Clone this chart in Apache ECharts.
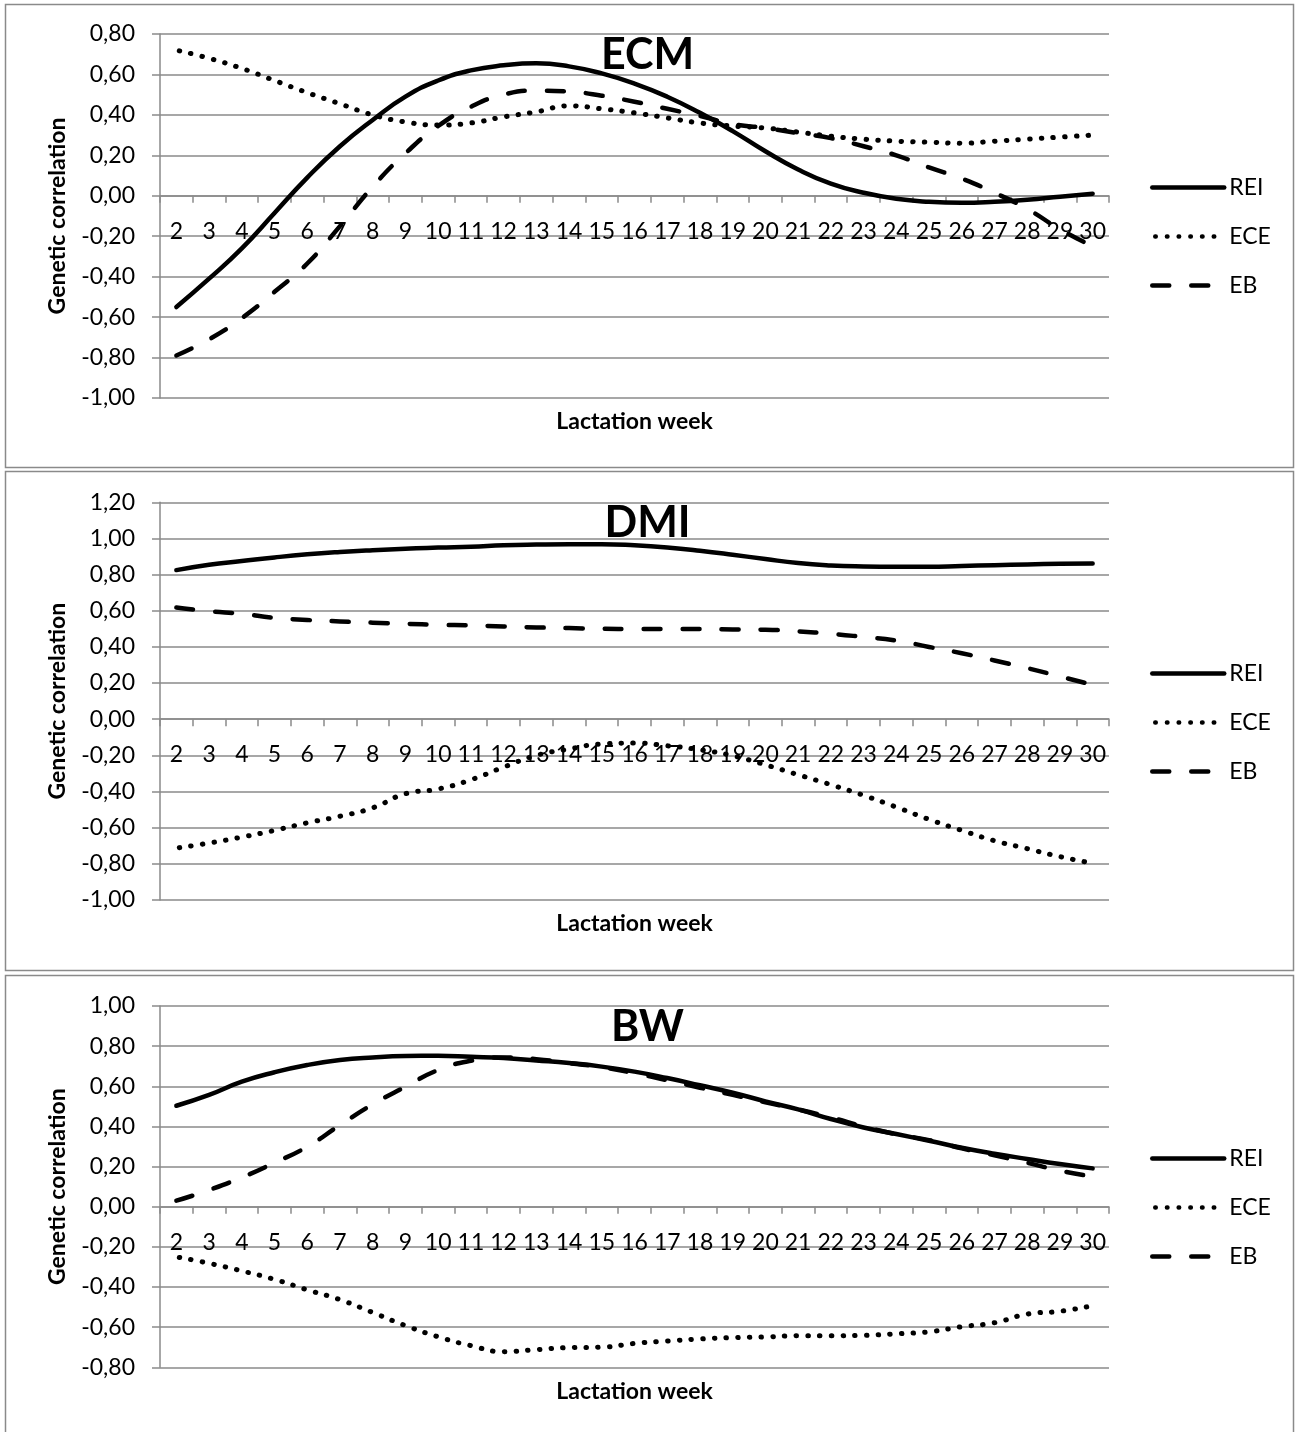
<!DOCTYPE html>
<html>
<head>
<meta charset="utf-8">
<title>Genetic correlations across lactation weeks</title>
<script src="https://cdn.jsdelivr.net/npm/echarts@6/dist/echarts.min.js"></script>
<style>
  html, body { margin: 0; padding: 0; background: #fff; }
  #chart { width: 1295px; height: 1432px; }
</style>
</head>
<body>
<div id="chart"></div>
<script>
// Lactation weeks on the category axis
const weeks = ['2','3','4','5','6','7','8','9','10','11','12','13','14','15','16',
  '17','18','19','20','21','22','23','24','25','26','27','28','29','30'];

const seriesNames = ['REI', 'ECE', 'EB'];
const panelTitles = ['ECM', 'DMI', 'BW'];
const yAxisName = 'Genetic correlation';
const xAxisName = 'Lactation week';

// ECM
const ecmREI = [-0.55, -0.41, -0.26, -0.085, 0.09, 0.245, 0.375, 0.49, 0.57, 0.62, 0.645, 0.655, 0.64,
  0.605, 0.555, 0.49, 0.41, 0.32, 0.22, 0.13, 0.06, 0.015, -0.015, -0.03, -0.035, -0.03, -0.02, -0.005, 0.01];
const ecmECE = [0.72, 0.68, 0.63, 0.57, 0.51, 0.455, 0.40, 0.365, 0.35, 0.36, 0.39, 0.415, 0.445,
  0.43, 0.41, 0.385, 0.36, 0.345, 0.335, 0.315, 0.295, 0.28, 0.27, 0.265, 0.26, 0.27, 0.28, 0.29, 0.30];
const ecmEB = [-0.79, -0.71, -0.605, -0.475, -0.335, -0.15, 0.045, 0.21, 0.345, 0.44, 0.50, 0.52, 0.515,
  0.495, 0.465, 0.43, 0.395, 0.355, 0.335, 0.31, 0.285, 0.245, 0.20, 0.14, 0.085, 0.015, -0.065, -0.165, -0.25];

// DMI
const dmiREI = [0.825, 0.855, 0.875, 0.895, 0.912, 0.925, 0.935, 0.943, 0.95, 0.954, 0.962, 0.966, 0.968,
  0.968, 0.962, 0.95, 0.932, 0.91, 0.886, 0.864, 0.851, 0.845, 0.843, 0.843, 0.848, 0.852, 0.856, 0.86, 0.862];
const dmiECE = [-0.713, -0.685, -0.652, -0.615, -0.573, -0.537, -0.49, -0.412, -0.386, -0.335, -0.265, -0.20, -0.165,
  -0.137, -0.132, -0.147, -0.169, -0.202, -0.252, -0.307, -0.362, -0.421, -0.486, -0.554, -0.615, -0.672, -0.716, -0.76, -0.797];
const dmiEB = [0.618, 0.598, 0.583, 0.561, 0.549, 0.541, 0.534, 0.528, 0.523, 0.519, 0.513, 0.508, 0.504,
  0.50, 0.499, 0.499, 0.499, 0.497, 0.495, 0.486, 0.473, 0.455, 0.435, 0.40, 0.365, 0.325, 0.283, 0.237, 0.19];

// BW
const bwREI = [0.503, 0.557, 0.623, 0.67, 0.706, 0.731, 0.744, 0.751, 0.752, 0.747, 0.741, 0.729, 0.716,
  0.698, 0.673, 0.641, 0.605, 0.568, 0.525, 0.485, 0.437, 0.395, 0.362, 0.329, 0.294, 0.264, 0.238, 0.213, 0.191];
const bwECE = [-0.25, -0.282, -0.32, -0.362, -0.414, -0.463, -0.527, -0.592, -0.648, -0.692, -0.722, -0.712, -0.702,
  -0.70, -0.681, -0.669, -0.659, -0.652, -0.649, -0.643, -0.643, -0.641, -0.633, -0.623, -0.598, -0.578, -0.535, -0.521, -0.493];
const bwEB = [0.03, 0.083, 0.146, 0.219, 0.299, 0.407, 0.51, 0.598, 0.681, 0.727, 0.744, 0.735, 0.715,
  0.695, 0.665, 0.63, 0.593, 0.557, 0.52, 0.485, 0.445, 0.40, 0.361, 0.332, 0.291, 0.256, 0.219, 0.18, 0.15];

// Value-axis ranges per panel
const yMins = [-1.0, -1.0, -0.8];
const yMaxs = [0.8, 1.2, 1.0];
const yStep = 0.2;

const panelData = [
  [ecmREI, ecmECE, ecmEB],
  [dmiREI, dmiECE, dmiEB],
  [bwREI, bwECE, bwEB]
];

// Layout of the three stacked panels
const layout = [
  { gridTop: 34,    gridHeight: 364,   titleTop: 29,   xNameBelow: 226, legendTop: 176,  box: [5.5, 4.5, 1288, 463] },
  { gridTop: 502.3, gridHeight: 397.7, titleTop: 497,  xNameBelow: 204, legendTop: 662,  box: [5.5, 471.5, 1288, 499] },
  { gridTop: 1006,  gridHeight: 361.3, titleTop: 1001, xNameBelow: 185, legendTop: 1147, box: [5.5, 975.5, 1288, 460] }
];

const FONT = 'Lato, "Open Sans", "Noto Sans", sans-serif';
const GRAY = '#8a8a8a';
const INK = '#000000';
const LINE_W = 4.5;

// Line styles: solid, round dots, long dashes
const lineStyles = [
  { color: INK, width: LINE_W, type: 'solid', dashOffset: 0, cap: 'round', join: 'round' },
  { color: INK, width: 5, type: [0.5, 11.2], dashOffset: 8.7, cap: 'round', join: 'round' },
  { color: INK, width: LINE_W, type: [17, 22], dashOffset: 0, cap: 'round', join: 'round' }
];

const fmt = v => (Math.abs(v) < 1e-9 ? 0 : v).toFixed(2).replace('.', ',');

// The category axis sits on the zero line of its value axis
const zeroShift = i => -layout[i].gridHeight * (0 - yMins[i]) / (yMaxs[i] - yMins[i]);

const option = {
  backgroundColor: '#ffffff',
  animation: false,
  textStyle: { fontFamily: FONT },
  title: layout.map((l, i) => ({
    text: panelTitles[i],
    left: 'center',
    top: l.titleTop,
    textStyle: { fontFamily: FONT, fontSize: 43, fontWeight: 'bold', color: INK }
  })),
  grid: layout.map(l => ({
    left: 160, top: l.gridTop, width: 949, height: l.gridHeight,
    containLabel: false, outerBoundsMode: 'none'
  })),
  xAxis: layout.map((l, i) => ({
    type: 'category',
    gridIndex: i,
    data: weeks,
    boundaryGap: true,
    position: 'bottom',
    offset: zeroShift(i),
    name: xAxisName,
    nameLocation: 'middle',
    nameGap: l.xNameBelow - 11.5,
    nameTextStyle: { fontFamily: FONT, fontSize: 23, fontWeight: 'bold', color: INK },
    axisLine: { show: true, onZero: false, lineStyle: { color: GRAY, width: 1.5 } },
    axisTick: { show: true, length: 7, lineStyle: { color: GRAY, width: 1.5 } },
    axisLabel: { interval: 0, margin: 24, fontFamily: FONT, fontSize: 23, color: INK },
    splitLine: { show: false }
  })),
  yAxis: layout.map((l, i) => ({
    type: 'value',
    gridIndex: i,
    min: yMins[i],
    max: yMaxs[i],
    interval: yStep,
    name: yAxisName,
    nameLocation: 'middle',
    nameGap: 91,
    nameTextStyle: { fontFamily: FONT, fontSize: 23, fontWeight: 'bold', color: INK },
    axisLine: { show: true, onZero: false, lineStyle: { color: GRAY, width: 1.5 } },
    axisTick: { show: true, length: 8, lineStyle: { color: GRAY, width: 1.5 } },
    axisLabel: { margin: 25, fontFamily: FONT, fontSize: 23, color: INK, formatter: fmt },
    splitLine: { show: true, lineStyle: { color: GRAY, width: 1.5 } }
  })),
  legend: layout.map(l => ({
    orient: 'vertical',
    left: 1150,
    top: l.legendTop,
    padding: 0,
    itemWidth: 72,
    itemHeight: 14,
    itemGap: 26,
    selectedMode: false,
    data: seriesNames,
    itemStyle: { opacity: 0 },
    lineStyle: { width: LINE_W, cap: 'round' },
    textStyle: { fontFamily: FONT, fontSize: 23, color: INK }
  })),
  series: [],
  graphic: layout.map(l => ({
    type: 'rect',
    silent: true,
    z: -1,
    shape: { x: l.box[0], y: l.box[1], width: l.box[2], height: l.box[3] },
    style: { fill: 'none', stroke: GRAY, lineWidth: 1.5 }
  }))
};

panelData.forEach((sets, p) => {
  sets.forEach((values, s) => {
    option.series.push({
      type: 'line',
      name: seriesNames[s],
      xAxisIndex: p,
      yAxisIndex: p,
      data: values,
      smooth: true,
      symbol: 'none',
      itemStyle: { color: INK },
      lineStyle: lineStyles[s],
      z: 3 + s
    });
  });
});

const chart = echarts.init(document.getElementById('chart'), null, { renderer: 'canvas' });
chart.setOption(option);
</script>
</body>
</html>
